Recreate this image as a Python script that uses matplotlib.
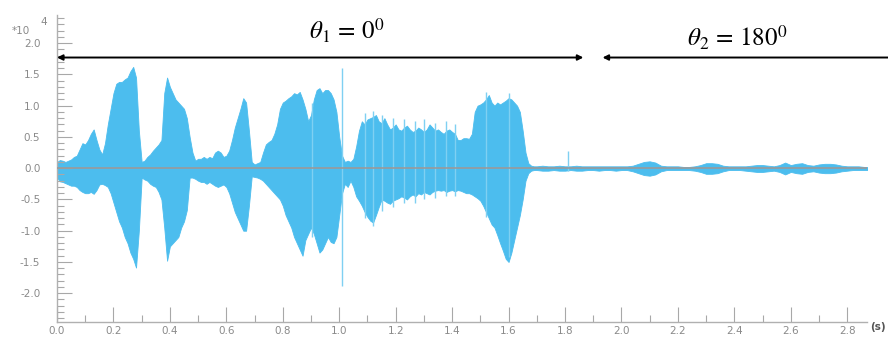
import numpy as np
import matplotlib
matplotlib.use('Agg')
from matplotlib import pyplot as plt

plt.rcParams['axes.unicode_minus'] = False
plt.rcParams['mathtext.fontset'] = 'stix'

# envelope of the speech part, one value every 10 ms (x10^4)
speech_hi = [0.10, 0.13, 0.12, 0.10, 0.12, 0.14, 0.18, 0.20, 0.30, 0.40,
             0.38, 0.45, 0.55, 0.62, 0.45, 0.30, 0.22, 0.40, 0.70, 0.95,
             1.20, 1.35, 1.38, 1.38, 1.42, 1.45, 1.55, 1.62, 1.45, 0.60,
             0.10, 0.12, 0.18, 0.22, 0.28, 0.33, 0.38, 0.45, 1.20, 1.45,
             1.30, 1.20, 1.10, 1.05, 1.00, 0.95, 0.80, 0.50, 0.25, 0.12,
             0.15, 0.15, 0.18, 0.15, 0.18, 0.16, 0.25, 0.28, 0.25, 0.18,
             0.20, 0.28, 0.45, 0.65, 0.80, 0.95, 1.12, 1.05, 0.60, 0.10,
             0.06, 0.08, 0.10, 0.25, 0.38, 0.42, 0.45, 0.55, 0.70, 0.95,
             1.05, 1.08, 1.12, 1.15, 1.20, 1.18, 1.22, 1.10, 0.95, 0.75,
             0.85, 1.10, 1.25, 1.28, 1.20, 1.25, 1.25, 1.20, 1.10, 0.90,
             0.50, 0.20, 0.10, 0.12, 0.10, 0.15, 0.35, 0.60, 0.75, 0.70,
             0.78, 0.80, 0.82, 0.85, 0.75, 0.72, 0.80, 0.70, 0.62, 0.65,
             0.70, 0.62, 0.60, 0.65, 0.68, 0.62, 0.58, 0.60, 0.65, 0.62,
             0.58, 0.62, 0.70, 0.65, 0.60, 0.62, 0.58, 0.55, 0.60, 0.62,
             0.58, 0.55, 0.45, 0.45, 0.48, 0.48, 0.47, 0.55, 0.90, 1.00,
             1.02, 1.05, 1.10, 1.17, 1.05, 1.00, 1.05, 1.02, 1.05, 1.08,
             1.12, 1.10, 1.05, 1.00, 0.90, 0.60, 0.25, 0.08, 0.04, 0.03,
             0.03]
speech_lo = [-0.15, -0.21, -0.22, -0.24, -0.26, -0.28, -0.28, -0.30, -0.35, -0.38,
             -0.40, -0.40, -0.38, -0.41, -0.35, -0.26, -0.25, -0.27, -0.30, -0.40,
             -0.55, -0.70, -0.85, -0.95, -1.10, -1.20, -1.35, -1.45, -1.59, -1.00,
             -0.15, -0.18, -0.20, -0.25, -0.28, -0.30, -0.38, -0.50, -0.95, -1.48,
             -1.25, -1.20, -1.15, -1.10, -0.95, -0.85, -0.67, -0.15, -0.15, -0.17,
             -0.20, -0.22, -0.22, -0.25, -0.22, -0.25, -0.28, -0.30, -0.28, -0.26,
             -0.30, -0.40, -0.55, -0.70, -0.80, -0.90, -1.00, -1.00, -0.60, -0.13,
             -0.14, -0.15, -0.17, -0.20, -0.25, -0.30, -0.35, -0.40, -0.45, -0.50,
             -0.60, -0.75, -0.85, -0.95, -1.10, -1.20, -1.30, -1.40, -1.15, -1.05,
             -0.95, -1.05, -1.20, -1.35, -1.30, -1.20, -1.10, -1.18, -1.20, -1.10,
             -0.75, -0.40, -0.25, -0.30, -0.20, -0.30, -0.45, -0.52, -0.60, -0.70,
             -0.78, -0.84, -0.87, -0.75, -0.62, -0.50, -0.52, -0.55, -0.57, -0.52,
             -0.50, -0.48, -0.45, -0.47, -0.50, -0.45, -0.42, -0.45, -0.40, -0.42,
             -0.38, -0.40, -0.42, -0.38, -0.36, -0.35, -0.36, -0.35, -0.38, -0.36,
             -0.35, -0.37, -0.35, -0.36, -0.38, -0.40, -0.40, -0.42, -0.45, -0.48,
             -0.52, -0.60, -0.70, -0.80, -0.90, -0.95, -1.07, -1.20, -1.32, -1.45,
             -1.50, -1.35, -1.15, -0.95, -0.75, -0.50, -0.20, -0.08, -0.04, -0.03,
             -0.03]

# quiet part after the speech, every 20 ms
tail_hi = [0.04, 0.03, 0.03, 0.04, 0.03, 0.03, 0.04, 0.03, 0.03, 0.03,
           0.03, 0.03, 0.03, 0.03, 0.03, 0.03, 0.04, 0.07, 0.10, 0.11,
           0.09, 0.04, 0.03, 0.03, 0.03, 0.02, 0.02, 0.03, 0.05, 0.08,
           0.08, 0.07, 0.04, 0.03, 0.03, 0.03, 0.03, 0.04, 0.05, 0.05,
           0.04, 0.03, 0.05, 0.09, 0.05, 0.07, 0.08, 0.05, 0.04, 0.06,
           0.07, 0.07, 0.06, 0.04, 0.03, 0.03, 0.03, 0.02, 0.02]
tail_lo = [-0.04, -0.04, -0.03, -0.04, -0.04, -0.03, -0.04, -0.04, -0.03, -0.03,
           -0.04, -0.03, -0.03, -0.04, -0.03, -0.03, -0.05, -0.08, -0.11, -0.12,
           -0.10, -0.05, -0.03, -0.03, -0.03, -0.03, -0.03, -0.04, -0.06, -0.09,
           -0.09, -0.08, -0.05, -0.03, -0.03, -0.03, -0.04, -0.05, -0.06, -0.06,
           -0.05, -0.04, -0.06, -0.10, -0.06, -0.08, -0.09, -0.06, -0.05, -0.07,
           -0.08, -0.08, -0.07, -0.05, -0.04, -0.03, -0.03, -0.03, -0.03]

# isolated clicks and peaks sticking out of the envelope: time, top, bottom
spikes_t = [1.01, 1.81, 0.905, 1.09, 1.12, 1.15, 1.19, 1.23, 1.27, 1.30,
            1.34, 1.38, 1.41, 1.52, 1.60]
spikes_top = [1.60, 0.28, 1.05, 0.88, 0.92, 0.85, 0.80, 0.78, 0.75, 0.78,
              0.72, 0.75, 0.70, 1.22, 1.20]
spikes_bot = [-1.88, -0.05, -1.10, -0.80, -0.92, -0.68, -0.62, -0.56, -0.55, -0.50,
              -0.48, -0.45, -0.45, -0.78, -1.42]

t_speech = np.arange(len(speech_hi)) * 0.01
t_tail = 1.72 + np.arange(len(tail_hi)) * 0.02
t = np.concatenate([t_speech, t_tail])
hi = np.array(speech_hi + tail_hi)
lo = np.array(speech_lo + tail_lo)

wave_col = '#4cbdee'
grey = '#9a9a9a'

fig = plt.figure(figsize=(8.88, 3.38), dpi=100)
ax = fig.add_axes([57 / 888, 1 - 322 / 338, 810 / 888, 307 / 338])

ax.fill_between(t, lo, hi, color=wave_col, linewidth=0.6, edgecolor=wave_col)
ax.vlines(spikes_t, spikes_bot, spikes_top, color='#7fd0f2', linewidth=1.0)
ax.axhline(0, color=grey, linewidth=1.2, zorder=3)

ax.set_xlim(0, 2.87)
ax.set_ylim(-2.46, 2.45)

for s in ['top', 'right']:
    ax.spines[s].set_visible(False)
for s in ['left', 'bottom']:
    ax.spines[s].set_color('#b0b0b0')
    ax.spines[s].set_linewidth(1.0)

xt = np.arange(0, 2.81, 0.2)
ax.set_xticks(xt)
ax.set_xticklabels(['%.1f' % v for v in xt])
ax.set_xticks(np.arange(0.1, 2.87, 0.2), minor=True)
yt = np.arange(-2.0, 2.01, 0.5)
ax.set_yticks(yt)
ax.set_yticklabels(['%.1f' % v for v in yt])
ax.set_yticks([v / 10 for v in range(-24, 25) if v % 5 != 0], minor=True)

ax.tick_params(axis='both', which='both', direction='in', color='#a8a8a8',
               labelcolor='#8a8a8a', labelsize=7.5, width=0.8)
ax.tick_params(axis='y', which='major', length=11, pad=12)
ax.tick_params(axis='y', which='minor', length=5)
ax.tick_params(axis='x', which='major', length=11, pad=3)
ax.tick_params(axis='x', which='minor', length=5)

fig.text(12 / 888, 1 - 31 / 338, '*10', fontsize=7.5, color='#8a8a8a', va='center')
fig.text(40 / 888, 1 - 22 / 338, '4', fontsize=7.5, color='#8a8a8a', va='center')
fig.text(886 / 888, 1 - 327 / 338, '(s)', fontsize=7.5, color='#555555',
         va='center', ha='right', fontweight='bold')

# angle segments
ax.annotate('', xy=(0.0, 1.77), xytext=(1.865, 1.77),
            arrowprops=dict(arrowstyle='<|-|>', color='black', lw=1.4,
                            mutation_scale=8, shrinkA=0, shrinkB=0))
ax.annotate('', xy=(1.933, 1.77), xytext=(3.05, 1.77),
            arrowprops=dict(arrowstyle='<|-|>', color='black', lw=1.4,
                            mutation_scale=8, shrinkA=0, shrinkB=0),
            annotation_clip=False)
ax.text(1.025, 2.2, r'$\theta_1\,=\,0^0$', fontsize=18, ha='center', va='center')
ax.text(2.41, 2.08, r'$\theta_2\,=\,180^0$', fontsize=18, ha='center', va='center')

fig.savefig('out.png', dpi=100)
